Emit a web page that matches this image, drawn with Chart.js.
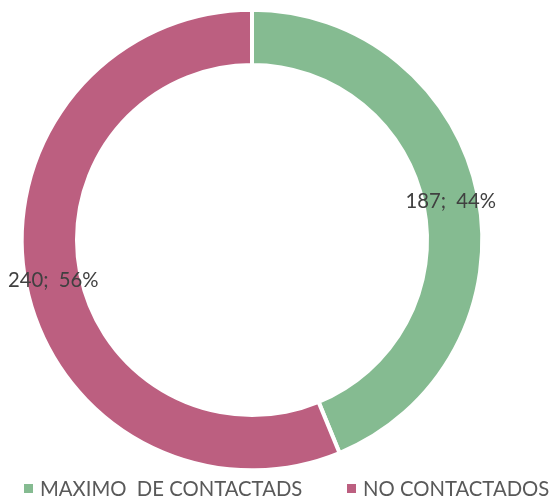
<!DOCTYPE html>
<html>
<head>
<meta charset="utf-8">
<script src="https://cdn.jsdelivr.net/npm/chart.js@4/dist/chart.umd.min.js"></script>
<style>
  html, body { margin: 0; padding: 0; background: #fff; }
  #wrap { width: 553px; height: 497px; }
</style>
</head>
<body>
<div id="wrap"><canvas id="ring" width="553" height="497"></canvas></div>
<script>
// chart data
const categories = ['MAXIMO  DE CONTACTADS', 'NO CONTACTADOS'];
const counts = [187, 240];
const percentLabels = ['44%', '56%'];
const sliceColors = ['#85bb91', '#bc5f80'];

// value labels in the middle of each ring piece
const ringLabels = {
  id: 'ringLabels',
  afterDatasetsDraw(chart) {
    const ctx = chart.ctx;
    const meta = chart.getDatasetMeta(0);
    ctx.save();
    ctx.font = '20.3px Lato, "Open Sans", sans-serif';
    ctx.fillStyle = '#404040';
    ctx.textAlign = 'center';
    ctx.textBaseline = 'middle';
    meta.data.forEach((arc, i) => {
      const pos = arc.tooltipPosition();
      ctx.fillText(counts[i] + ';\u2002' + percentLabels[i], pos.x, pos.y + 1);
    });
    ctx.restore();
  }
};

// legend along the bottom, drawn by hand so the ring can sit off-centre
const bottomLegend = {
  id: 'bottomLegend',
  afterDraw(chart) {
    const ctx = chart.ctx;
    const startX = [24, 347];
    const y = 488;
    ctx.save();
    ctx.font = '20.3px Lato, "Open Sans", sans-serif';
    ctx.textBaseline = 'middle';
    categories.forEach((name, i) => {
      ctx.fillStyle = sliceColors[i];
      ctx.fillRect(startX[i], y - 4, 9, 9);
      ctx.fillStyle = '#595959';
      ctx.fillText(name, startX[i] + 16, y + 1);
    });
    ctx.restore();
  }
};

const ringChart = new Chart(document.getElementById('ring'), {
  type: 'doughnut',
  data: {
    labels: categories,
    datasets: [{
      data: counts,
      backgroundColor: sliceColors,
      borderColor: '#ffffff',
      borderWidth: 4
    }]
  },
  options: {
    responsive: false,
    animation: false,
    cutout: '76%',
    radius: '101%',
    layout: { padding: { left: 22, right: 71, top: 10, bottom: 27 } },
    plugins: {
      legend: { display: false },
      tooltip: { enabled: false }
    }
  },
  plugins: [ringLabels, bottomLegend]
});
</script>
</body>
</html>
